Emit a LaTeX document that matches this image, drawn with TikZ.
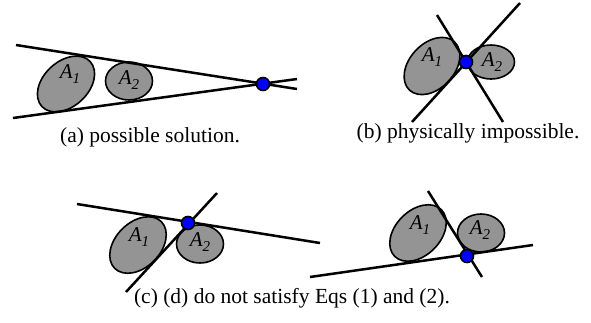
\documentclass[tikz,border=0pt]{standalone}
\usepackage{fontspec}
\setmainfont{Liberation Serif}
\usetikzlibrary{shapes.geometric}
\newcommand\albl[2]{\textit{#1}\raisebox{-0.25em}{\fontsize{15}{15}\selectfont\textit{#2}}}
\begin{document}
\begin{tikzpicture}[x=1pt,y=-1pt,
  bigarea/.style={ellipse,draw=black,line width=1.6pt,fill=black!42,inner sep=0pt,minimum width=66pt,minimum height=45pt,rotate=43},
  smallarea/.style={ellipse,draw=black,line width=1.6pt,fill=black!42,inner sep=0pt,minimum width=47pt,minimum height=38pt},
  arealbl/.style={inner sep=0pt,font=\fontsize{21}{21}\selectfont},
  tline/.style={line width=2.5pt,black},
  dotnode/.style={circle,draw=black,line width=1.6pt,fill=blue,inner sep=0pt,minimum size=13pt},
  captext/.style={inner sep=0pt,font=\fontsize{21.5}{24}\selectfont}]
\useasboundingbox (0,0) rectangle (591,322);
% ---------- (a)
\node[bigarea] (a1) at (66,84) {};
\node[smallarea] (a2) at (129,81) {};
\node[arealbl] (la1) at (70,74) {\albl{A}{1}};
\node[arealbl] (la2) at (129,80) {\albl{A}{2}};
\coordinate (au1) at (16,45); \coordinate (au2) at (297,89);
\coordinate (al1) at (13,118); \coordinate (al2) at (297,79);
\draw[tline] (au1) -- (au2);
\draw[tline] (al1) -- (al2);
\node[dotnode] (ap) at (263,84) {};
\node[captext] (ca) at (150,137) {(a) possible solution.};
% ---------- (b)
\node[bigarea,rotate=4] (b1) at (432,66) {};
\node[smallarea,minimum height=34pt] (b2) at (491,62) {};
\node[arealbl] (lb1) at (432,57) {\albl{A}{1}};
\node[arealbl] (lb2) at (492,62) {\albl{A}{2}};
\coordinate (bu1) at (437,15); \coordinate (bu2) at (503,122);
\coordinate (bl1) at (412,122); \coordinate (bl2) at (520,3);
\draw[tline] (bu1) -- (bu2);
\draw[tline] (bl1) -- (bl2);
\node[dotnode] (bp) at (466,62) {};
\node[captext] (cb) at (468,133) {(b) physically impossible.};
% ---------- (c)
\node[bigarea,rotate=2] (c1) at (138,245) {};
\node[smallarea] (c2) at (200,244) {};
\node[arealbl] (lc1) at (139,237) {\albl{A}{1}};
\node[arealbl] (lc2) at (200,242) {\albl{A}{2}};
\coordinate (cu1) at (77,204); \coordinate (cu2) at (320,243);
\coordinate (cl1) at (126,292); \coordinate (cl2) at (217,193);
\draw[tline] (cu1) -- (cu2);
\draw[tline] (cl1) -- (cl2);
\node[dotnode] (cp) at (188,223) {};
% ---------- (d)
\node[bigarea,rotate=2] (d1) at (418,233) {};
\node[smallarea] (d2) at (481,233) {};
\node[arealbl] (ld1) at (420,225) {\albl{A}{1}};
\node[arealbl] (ld2) at (480,230) {\albl{A}{2}};
\coordinate (du1) at (310,277); \coordinate (du2) at (533,245);
\coordinate (dl1) at (428,191); \coordinate (dl2) at (482,277);
\draw[tline] (du1) -- (du2);
\draw[tline] (dl1) -- (dl2);
\node[dotnode] (dp) at (467,256) {};
\node[captext] (cc) at (292,298) {(c) (d) do not satisfy Eqs (1) and (2).};
\end{tikzpicture}
\end{document}
